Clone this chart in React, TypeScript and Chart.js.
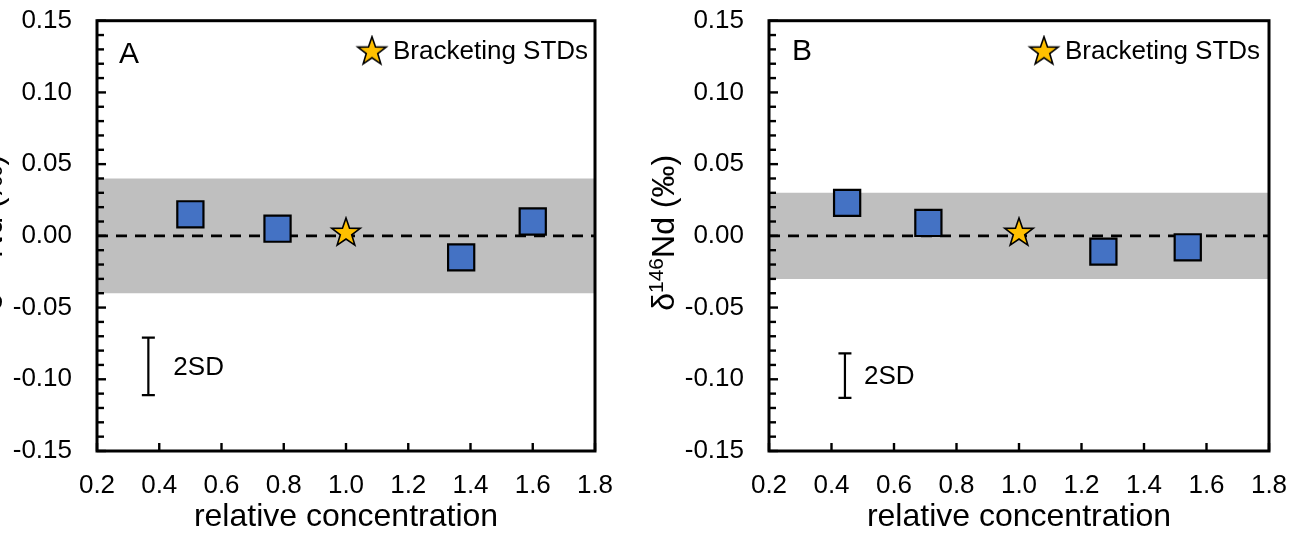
import React, { useEffect, useRef } from "react";
import { Chart, registerables } from "chart.js";

Chart.register(...registerables);

// ---------- data ----------
const xTicks = [0.2, 0.4, 0.6, 0.8, 1.0, 1.2, 1.4, 1.6, 1.8];
const yTicks = [-0.15, -0.1, -0.05, 0, 0.05, 0.1, 0.15];
const xRange = [0.2, 1.8];

// Panel A
const sampleXA = [0.5, 0.78, 1.37, 1.6];
const sampleYA = [0.015, 0.005, -0.015, 0.01];
const stdXA = [1.0];
const stdYA = [0.002];
const bandA = [-0.04, 0.04];
const sdBarXA = [0.365];
const sdBarYA = [-0.111, -0.071];

// Panel B
const sampleXB = [0.45, 0.71, 1.27, 1.54];
const sampleYB = [0.023, 0.009, -0.011, -0.008];
const stdXB = [1.0];
const stdYB = [0.002];
const bandB = [-0.03, 0.03];
const sdBarXB = [0.443];
const sdBarYB = [-0.113, -0.082];

const FONT = "'Liberation Sans', Arial, Helvetica, sans-serif";

function makeStar(R: number, ratio: number): HTMLCanvasElement {
  const size = Math.ceil(2 * R + 4);
  const c = document.createElement("canvas");
  c.width = size;
  c.height = size;
  const g = c.getContext("2d")!;
  const cx = size / 2;
  const cy = size / 2;
  g.beginPath();
  for (let i = 0; i < 10; i++) {
    const r = i % 2 === 0 ? R : R * ratio;
    const a = -Math.PI / 2 + (i * Math.PI) / 5;
    const px = cx + r * Math.cos(a);
    const py = cy + r * Math.sin(a);
    if (i === 0) g.moveTo(px, py);
    else g.lineTo(px, py);
  }
  g.closePath();
  g.fillStyle = "#FFC000";
  g.fill();
  g.lineWidth = 1.6;
  g.strokeStyle = "#000";
  g.lineJoin = "miter";
  g.stroke();
  return c;
}

interface PanelProps {
  sampleX: number[];
  sampleY: number[];
  stdX: number[];
  stdY: number[];
  band: number[];
  sdX: number[];
  sdY: number[];
  letter: string;
  canvasLeft: number;
  plotWidth: number;
  letterDX: number;
  letterDY: number;
  sdTextGap: number;
}

const CANVAS_W = 656;
const CANVAS_H = 536;
const Y_AXIS_W = 120;
const X_AXIS_H = 85;
const TOP_PAD = 20;

function Panel(p: PanelProps) {
  const ref = useRef<HTMLCanvasElement | null>(null);

  useEffect(() => {
    const canvas = ref.current;
    if (!canvas) return;
    const star = makeStar(15, 0.4);

    const decor = {
      id: "decor",
      afterDraw(chart: any) {
        const { ctx, chartArea, scales } = chart;
        const { left, right, top, bottom } = chartArea;
        const xs = scales.x;
        const ys = scales.y;
        ctx.save();
        ctx.strokeStyle = "#000";
        ctx.fillStyle = "#000";
        // minor / major y ticks (inside)
        ctx.lineWidth = 2.4;
        for (let i = -15; i <= 15; i++) {
          const py = ys.getPixelForValue(i / 100);
          const len = i % 5 === 0 ? 9 : 7;
          ctx.beginPath();
          ctx.moveTo(left, py);
          ctx.lineTo(left + len, py);
          ctx.stroke();
        }
        // x ticks (inside)
        xTicks.forEach((v) => {
          const px = xs.getPixelForValue(v);
          ctx.beginPath();
          ctx.moveTo(px, bottom);
          ctx.lineTo(px, bottom - 8);
          ctx.stroke();
        });
        // frame
        ctx.lineWidth = 3;
        ctx.strokeRect(left, top, right - left, bottom - top);

        // 2SD bar
        const bx = xs.getPixelForValue(p.sdX[0]);
        const by1 = ys.getPixelForValue(p.sdY[0]);
        const by2 = ys.getPixelForValue(p.sdY[1]);
        ctx.lineWidth = 2.2;
        ctx.beginPath();
        ctx.moveTo(bx, by1);
        ctx.lineTo(bx, by2);
        ctx.moveTo(bx - 6.5, by1);
        ctx.lineTo(bx + 6.5, by1);
        ctx.moveTo(bx - 6.5, by2);
        ctx.lineTo(bx + 6.5, by2);
        ctx.stroke();
        ctx.font = `26px ${FONT}`;
        ctx.textAlign = "left";
        ctx.textBaseline = "middle";
        ctx.fillText("2SD", bx + p.sdTextGap, (by1 + by2) / 2 + 1);

        // panel letter
        ctx.font = `30px ${FONT}`;
        ctx.fillText(p.letter, left + p.letterDX, top + p.letterDY);

        // legend
        ctx.drawImage(star, left + 275 - star.width / 2, top + 31 - star.height / 2);
        ctx.font = `26px ${FONT}`;
        ctx.fillText("Bracketing STDs", left + 296, top + 31);

        // y axis title (rotated, with superscript)
        const fs = 32;
        const ss = 21;
        ctx.translate(left - 107, (top + bottom) / 2 - 3);
        ctx.rotate(-Math.PI / 2);
        ctx.textBaseline = "alphabetic";
        ctx.font = `${fs}px ${FONT}`;
        const w1 = ctx.measureText("\u03b4").width;
        const w3 = ctx.measureText("Nd (\u2030)").width;
        ctx.font = `${ss}px ${FONT}`;
        const w2 = ctx.measureText("146").width;
        let sx = -(w1 + w2 + w3) / 2;
        const base = fs * 0.36;
        ctx.font = `${fs}px ${FONT}`;
        ctx.fillText("\u03b4", sx, base);
        sx += w1;
        ctx.font = `${ss}px ${FONT}`;
        ctx.fillText("146", sx, base - fs * 0.34);
        sx += w2;
        ctx.font = `${fs}px ${FONT}`;
        ctx.fillText("Nd (\u2030)", sx, base);
        ctx.restore();
      },
    };

    const chart = new Chart(canvas, {
      type: "scatter",
      data: {
        datasets: [
          {
            type: "line",
            data: xRange.map((x) => ({ x, y: p.band[1] })),
            fill: { value: p.band[0] },
            backgroundColor: "#bfbfbf",
            borderWidth: 0,
            pointRadius: 0,
            order: 3,
          } as any,
          {
            type: "line",
            data: xRange.map((x) => ({ x, y: 0 })),
            borderColor: "#000",
            borderWidth: 2.8,
            borderDash: [11, 8],
            pointRadius: 0,
            fill: false,
            order: 2,
          } as any,
          {
            type: "scatter",
            data: p.sampleX.map((x, i) => ({ x, y: p.sampleY[i] })),
            pointStyle: "rect",
            pointRadius: 18.5,
            backgroundColor: "#4472C4",
            borderColor: "#000",
            borderWidth: 2.2,
            order: 1,
          } as any,
          {
            type: "scatter",
            data: p.stdX.map((x, i) => ({ x, y: p.stdY[i] })),
            pointStyle: star,
            pointRadius: 15,
            order: 0,
          } as any,
        ],
      },
      options: {
        responsive: false,
        animation: false,
        events: [],
        layout: {
          padding: {
            top: TOP_PAD,
            left: 0,
            bottom: 0,
            right: CANVAS_W - Y_AXIS_W - p.plotWidth,
          },
        },
        plugins: {
          legend: { display: false },
          tooltip: { enabled: false },
        },
        scales: {
          x: {
            type: "linear",
            min: 0.2,
            max: 1.8,
            afterBuildTicks: (s: any) => {
              s.ticks = xTicks.map((v) => ({ value: v }));
            },
            afterFit: (s: any) => {
              s.height = X_AXIS_H;
              s.paddingLeft = 0;
              s.paddingRight = 0;
              s.paddingTop = 0;
              s.paddingBottom = 0;
            },
            grid: { display: false, drawTicks: false },
            border: { display: false },
            ticks: {
              padding: 19,
              autoSkip: false,
              maxRotation: 0,
              color: "#000",
              font: { family: FONT, size: 26 },
              callback: (v: any) => Number(v).toFixed(1),
            },
            title: {
              display: true,
              text: "relative concentration",
              color: "#000",
              font: { family: FONT, size: 32 },
              padding: 0,
            },
          },
          y: {
            type: "linear",
            min: -0.15,
            max: 0.15,
            afterBuildTicks: (s: any) => {
              s.ticks = yTicks.map((v) => ({ value: v }));
            },
            afterFit: (s: any) => {
              s.width = Y_AXIS_W;
              s.paddingLeft = 0;
              s.paddingRight = 0;
              s.paddingTop = 0;
              s.paddingBottom = 0;
            },
            grid: { display: false, drawTicks: false },
            border: { display: false },
            ticks: {
              padding: 25,
              autoSkip: false,
              color: "#000",
              font: { family: FONT, size: 26 },
              callback: (v: any) => Number(v).toFixed(2),
            },
          },
        },
      } as any,
      plugins: [decor],
    });
    return () => chart.destroy();
  }, []);

  return (
    <canvas
      ref={ref}
      width={CANVAS_W}
      height={CANVAS_H}
      style={{
        position: "absolute",
        left: p.canvasLeft,
        top: 0,
        width: CANVAS_W,
        height: CANVAS_H,
      }}
    />
  );
}

export default function App() {
  return (
    <div
      style={{
        position: "fixed",
        left: 0,
        top: 0,
        width: 1306,
        height: 536,
        overflow: "hidden",
        background: "#fff",
      }}
    >
      <Panel
        sampleX={sampleXA}
        sampleY={sampleYA}
        stdX={stdXA}
        stdY={stdYA}
        band={bandA}
        sdX={sdBarXA}
        sdY={sdBarYA}
        letter="A"
        canvasLeft={97 - Y_AXIS_W}
        plotWidth={498}
        letterDX={22}
        letterDY={34}
        sdTextGap={25}
      />
      <Panel
        sampleX={sampleXB}
        sampleY={sampleYB}
        stdX={stdXB}
        stdY={stdYB}
        band={bandB}
        sdX={sdBarXB}
        sdY={sdBarYB}
        letter="B"
        canvasLeft={769 - Y_AXIS_W}
        plotWidth={500}
        letterDX={23}
        letterDY={31}
        sdTextGap={19}
      />
    </div>
  );
}
